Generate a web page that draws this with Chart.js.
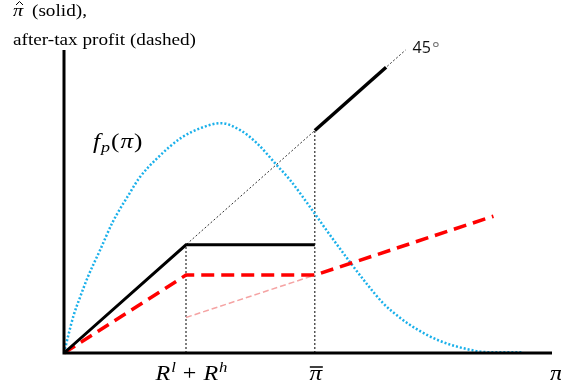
<!DOCTYPE html>
<html>
<head>
<meta charset="utf-8">
<script src="https://cdn.jsdelivr.net/npm/chart.js@4/dist/chart.umd.min.js"></script>
<style>
  html, body { margin: 0; padding: 0; background: #fff; }
  #wrap { width: 561px; height: 390px; }
</style>
</head>
<body>
<div id="wrap"><canvas id="chart" width="561" height="390"></canvas></div>
<script>
// pi on the x axis (0..100), y in the same kind of units (0..70)
const axisX = [0, 0, 100];
const axisY = [70, 0, 0];

// 45 degree reference line
const diagX = [0, 70];
const diagY = [0, 70];

// pi-hat (solid)
const solidX = [0, 25, 51.4];
const solidY = [0, 25, 25];
const solidUpperX = [51.4, 66];
const solidUpperY = [51.4, 66];

// after-tax profit (dashed)
const afterTaxX = [0, 25, 51.4, 88];
const afterTaxY = [0, 18, 18, 31.6];
const afterTaxExtX = [25, 51.4];
const afterTaxExtY = [8.2, 18];

// density f_p(pi)
const densityX = [0, 1.0, 2.0, 3.3, 4.9, 7.4, 10.0, 13.5, 15.4, 19.1, 24.0, 28.1, 32.2, 36.1, 39.5, 43.6, 46.3, 51.0, 53.9, 58.6, 62.1, 65.4, 68.9, 72.3, 77.0, 82.6, 86.7, 94.1];
const densityY = [0, 4.6, 8.8, 12.9, 17.6, 23.8, 30.3, 37.0, 40.4, 45.0, 49.7, 52.0, 53.1, 51.5, 48.5, 43.4, 40.0, 32.8, 28.2, 21.0, 15.9, 11.5, 8.1, 5.5, 2.8, 0.9, 0.2, 0.2];

// vertical guides and x tick labels
const guideValues = [25, 51.4];
const tickValues = [25, 51.4, 100];

const pts = (xs, ys) => xs.map((x, i) => ({ x: x, y: ys[i] }));

const line = (data, color, width, dash, order) => ({
    data: data,
    showLine: true,
    borderColor: color,
    borderWidth: width,
    borderDash: dash,
    pointRadius: 0,
    fill: false,
    clip: false,
    order: order,
});

const datasets = [
    line(pts(axisX, axisY), '#000', 3, [], 0),
    line(pts(solidX, solidY), '#000', 3, [], 1),
    line(pts(solidUpperX, solidUpperY), '#000', 3.5, [], 1),
    line(pts(afterTaxX, afterTaxY), '#ff0000', 3.5, [13, 7], 2),
    line(pts(afterTaxExtX, afterTaxExtY), '#f5a3a3', 1.5, [6, 3], 3),
    line(pts(diagX, diagY), '#333', 1, [2, 2], 5),
];
guideValues.forEach((g, i) => {
    const top = i === 0 ? solidY[1] : solidUpperY[0];
    datasets.push(line(pts([g, g], [0, top]), '#000', 1, [2, 2], 5));
});
const density = line(pts(densityX, densityY), '#1ab0ea', 2.5, [2, 2], 4);
density.cubicInterpolationMode = 'monotone';
datasets.push(density);

// the reference text is a little stretched sideways
const SX = 1.2;

const labels = {
    id: 'labels',
    afterDraw(chart) {
        const ctx = chart.ctx;
        const xs = chart.scales.x;
        const ys = chart.scales.y;

        const txt = (s, x, y, font, color) => {
            ctx.save();
            ctx.translate(x, y);
            ctx.scale(SX, 1);
            ctx.font = font;
            ctx.fillStyle = color || '#000';
            ctx.textBaseline = 'alphabetic';
            ctx.fillText(s, 0, 0);
            const w = ctx.measureText(s).width * SX;
            ctx.restore();
            return w;
        };
        const width = (s, font) => {
            ctx.save();
            ctx.font = font;
            const w = ctx.measureText(s).width * SX;
            ctx.restore();
            return w;
        };

        ctx.save();
        ctx.strokeStyle = '#000';

        // y axis title
        txt('\u03c0', 13, 16, 'italic 17px "Liberation Serif"');
        ctx.beginPath();
        ctx.lineWidth = 1;
        ctx.moveTo(16, 5); ctx.lineTo(19.5, 1.5); ctx.lineTo(23, 5);
        ctx.stroke();
        txt('(solid),', 32, 16, '16px "Liberation Serif"');
        txt('after-tax profit (dashed)', 13, 45, '16px "Liberation Serif"');

        // f_p(pi)
        let x = 93;
        x += txt('f', x, 148, 'italic 21px "Liberation Serif"') + 1;
        x += txt('p', x, 152, 'italic 15px "Liberation Serif"') + 1;
        x += txt('(', x, 148, '21px "Liberation Serif"') + 1;
        x += txt('\u03c0', x, 148, 'italic 21px "Liberation Serif"') + 1;
        txt(')', x, 148, '21px "Liberation Serif"');

        // 45 degrees
        const p45x = xs.getPixelForValue(diagX[1]) + 7;
        const p45y = ys.getPixelForValue(diagY[1]) + 3;
        ctx.font = '16px "Open Sans"';
        ctx.fillStyle = '#111';
        ctx.fillText('45', p45x, p45y);
        const w45 = ctx.measureText('45').width;
        ctx.fillStyle = '#777';
        ctx.font = '18px "Open Sans"';
        ctx.fillText('\u00b0', p45x + w45 + 1, p45y + 2);

        // x tick labels
        const base = ys.getPixelForValue(0) + 27;
        const parts = [
            ['R', 'italic 20px "Liberation Serif"', 0],
            ['l', 'italic 14px "Liberation Serif"', -8],
            [' + ', '20px "Liberation Serif"', 0],
            ['R', 'italic 20px "Liberation Serif"', 0],
            ['h', 'italic 14px "Liberation Serif"', -8],
        ];
        let w = 0;
        parts.forEach(p => { w += width(p[0], p[1]) + 1; });
        x = xs.getPixelForValue(tickValues[0]) + 6 - w / 2;
        parts.forEach(p => { x += txt(p[0], x, base + p[2], p[1]) + 1; });

        // pi bar
        const piFont = 'italic 21px "Liberation Serif"';
        const pw = width('\u03c0', piFont);
        const pb = xs.getPixelForValue(tickValues[1]) + 1;
        txt('\u03c0', pb - pw / 2, base, piFont);
        ctx.beginPath();
        ctx.lineWidth = 1.5;
        ctx.moveTo(pb - 6, base - 13); ctx.lineTo(pb + 7, base - 13);
        ctx.stroke();

        // pi
        txt('\u03c0', xs.getPixelForValue(tickValues[2]) - 2, base, piFont);
        ctx.restore();
    }
};

new Chart(document.getElementById('chart'), {
    type: 'scatter',
    data: { datasets: datasets },
    options: {
        responsive: false,
        animation: false,
        layout: { padding: { left: 64, right: 9, top: 50, bottom: 37 } },
        plugins: { legend: { display: false }, tooltip: { enabled: false } },
        scales: {
            x: { type: 'linear', min: 0, max: 100, display: false },
            y: { type: 'linear', min: 0, max: 70, display: false },
        },
    },
    plugins: [labels],
});
</script>
</body>
</html>
